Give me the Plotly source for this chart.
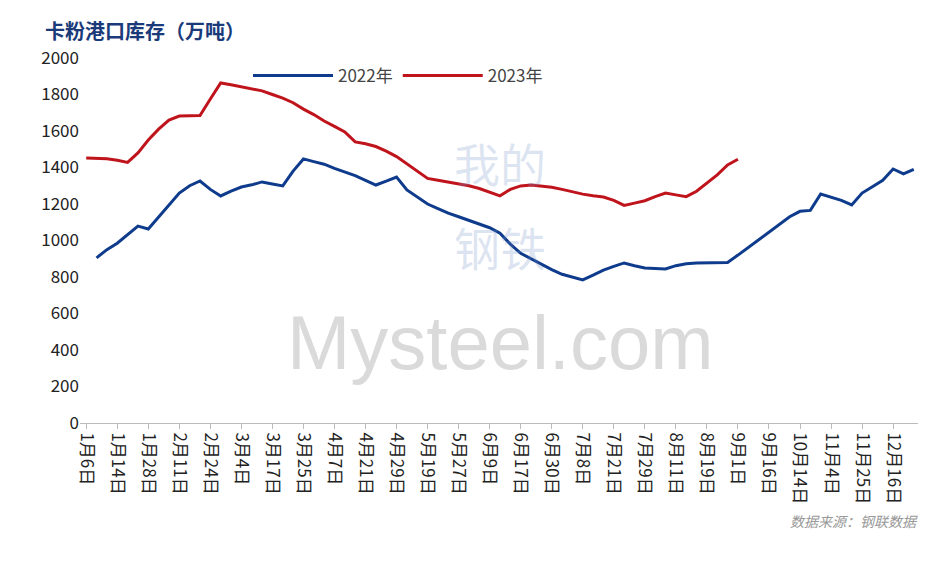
import plotly.graph_objects as go

tick_labels = ["1月6日", "1月14日", "1月28日", "2月11日", "2月24日", "3月4日", "3月17日",
               "3月25日", "4月7日", "4月21日", "4月29日", "5月19日", "5月27日", "6月9日",
               "6月17日", "6月30日", "7月8日", "7月21日", "7月29日", "8月11日", "8月19日",
               "9月1日", "9月16日", "10月14日", "11月4日", "11月25日", "12月16日"]

stock_2022 = [905, 950, 985, 1030, 1079, 1063, 1130, 1195, 1260, 1300, 1326, 1280, 1244, 1270,
              1293, 1305, 1321, 1310, 1299, 1380, 1447, 1432, 1418, 1395, 1375, 1355, 1330, 1304,
              1325, 1348, 1277, 1240, 1200, 1175, 1150, 1130, 1110, 1090, 1070, 1040, 980, 930,
              900, 871, 840, 815, 800, 784, 810, 838, 858, 877, 862, 849, 846, 844, 862, 873,
              877, 877, 877, 880, 920, 962, 1000, 1041, 1085, 1130, 1160, 1165, 1255, 1238,
              1220, 1195, 1260, 1295, 1330, 1392, 1365, 1390]

stock_2023 = [1452, 1452, 1448, 1440, 1428, 1480, 1551, 1610, 1660, 1682, 1682, 1685, 1775,
              1863, 1853, 1843, 1830, 1820, 1800, 1780, 1755, 1720, 1690, 1655, 1625, 1595,
              1540, 1530, 1515, 1490, 1460, 1420, 1380, 1340, 1330, 1320, 1310, 1300, 1285,
              1265, 1245, 1280, 1299, 1304, 1300, 1292, 1280, 1266, 1254, 1245, 1238, 1220,
              1192, 1205, 1218, 1240, 1260, 1250, 1240, 1270, 1315, 1360, 1414, 1445]

x22 = list(range(1, len(stock_2022) + 1))
x23 = list(range(len(stock_2023)))
tick_pos = [i * 3 for i in range(len(tick_labels))]

fig = go.Figure()
fig.add_trace(go.Scatter(x=x22, y=stock_2022, mode="lines", name="2022年",
                         line=dict(color="#0e3b8c", width=3)))
fig.add_trace(go.Scatter(x=x23, y=stock_2023, mode="lines", name="2023年",
                         line=dict(color="#c0141c", width=3)))

# faint watermark
wm_font = dict(size=46, color="rgba(120,150,200,0.25)", family="Noto Sans CJK SC")
fig.add_annotation(x=0.5, y=0.1, xref="paper", yref="paper", text="Mysteel.com",
                   showarrow=False, font=dict(size=76, color="rgba(150,150,150,0.35)",
                                              family="Arial"))
fig.add_annotation(x=0.5, y=0.62, xref="paper", yref="paper", text="我的", yanchor="bottom",
                   showarrow=False, font=wm_font)
fig.add_annotation(x=0.5, y=0.58, xref="paper", yref="paper", text="钢铁", yanchor="top",
                   showarrow=False, font=wm_font)

fig.update_layout(
    width=926, height=580,
    margin=dict(l=72, r=14, t=50, b=165),
    plot_bgcolor="white", paper_bgcolor="white",
    font=dict(family="Noto Sans CJK SC, DejaVu Sans", size=16, color="#222"),
    title=dict(text="<b>卡粉港口库存（万吨）</b>", x=0.04, y=0.97, yanchor="top", xanchor="left",
               font=dict(size=20, color="#1a3a7a")),
    legend=dict(orientation="h", x=0.2, y=1.0, xanchor="left", yanchor="top",
                font=dict(size=17, color="#444"), bgcolor="rgba(0,0,0,0)",
                itemwidth=80),
    xaxis=dict(range=[-0.6, 80.6], tickmode="array", tickvals=tick_pos, ticktext=tick_labels,
               tickangle=90, showgrid=False, showline=True, linecolor="#bbb",
               ticks="outside", ticklen=5, tickcolor="#bbb", zeroline=False,
               tickfont=dict(size=17, color="#222")),
    yaxis=dict(range=[0, 2000], dtick=200, showgrid=False, zeroline=False,
               tickfont=dict(size=17, color="#222")),
)

fig.add_annotation(x=1.0, y=-0.3, xref="paper", yref="paper", xanchor="right",
                   text="<i>数据来源：钢联数据</i>", showarrow=False,
                   font=dict(size=14, color="#999"))

fig.write_html("out.html")
